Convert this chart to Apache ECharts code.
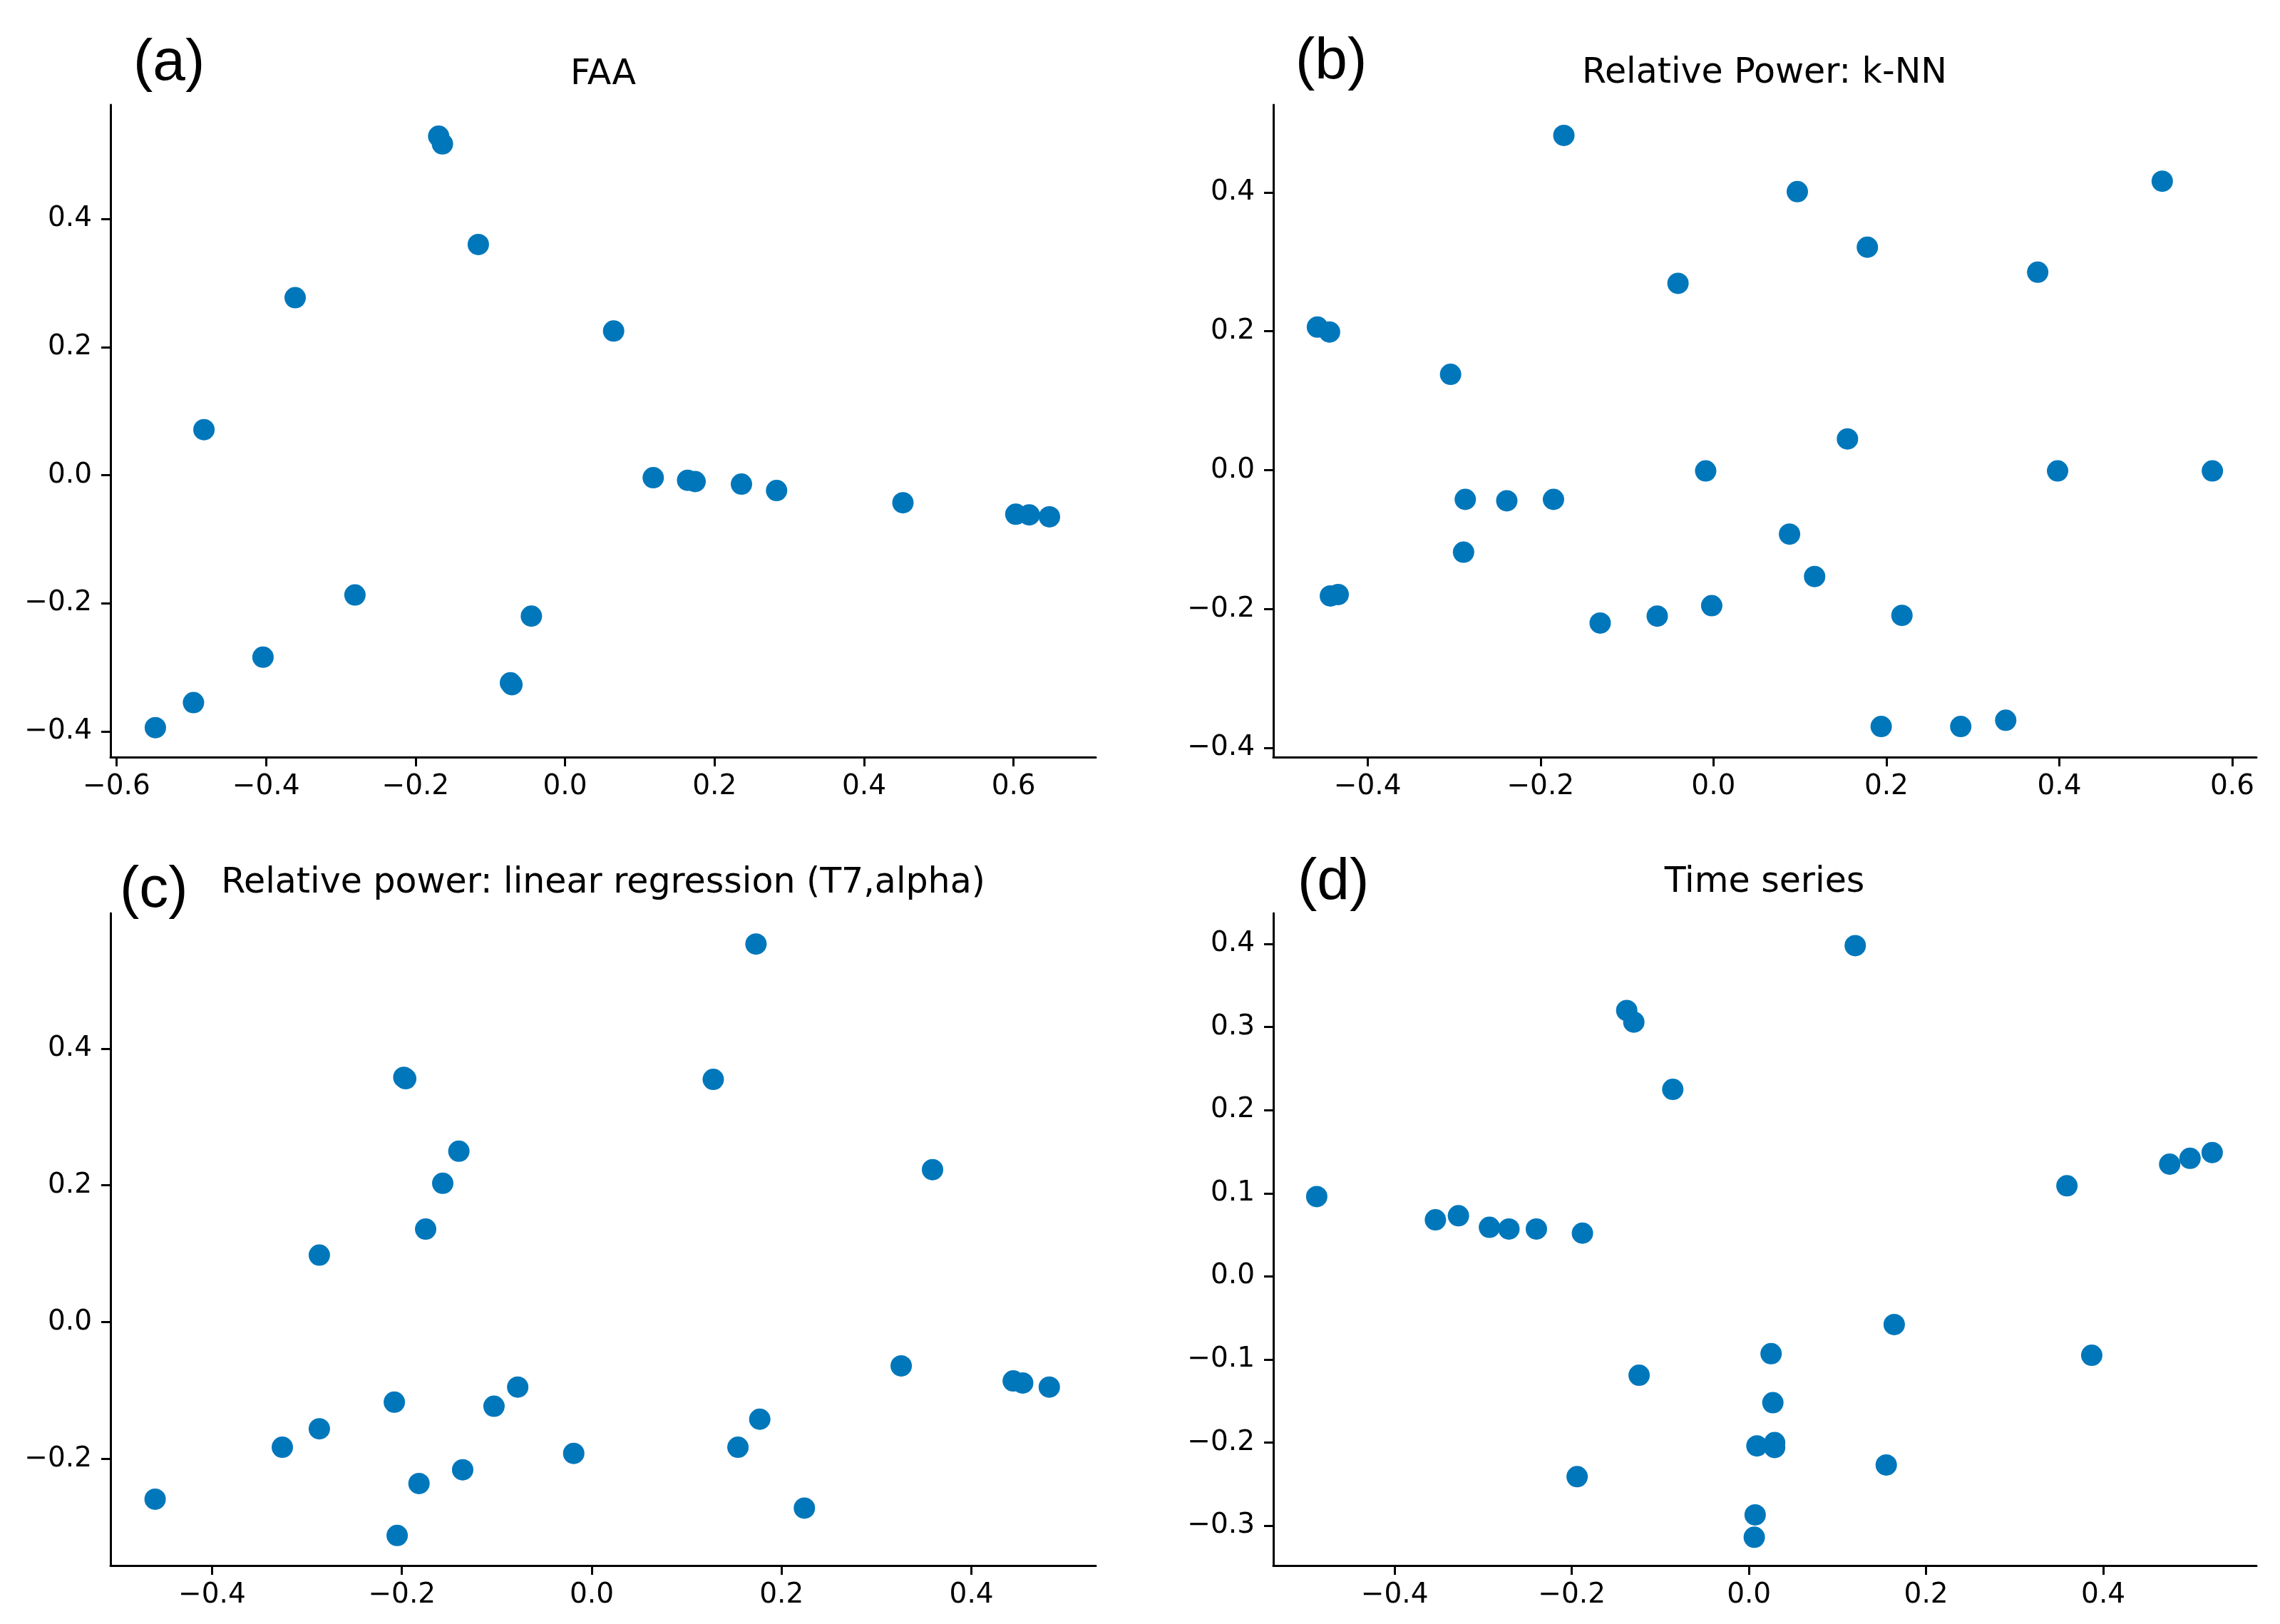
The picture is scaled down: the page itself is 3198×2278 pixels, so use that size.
<!DOCTYPE html>
<html>
<head>
<meta charset="utf-8">
<title>Scatter panels</title>
<script src="https://cdn.jsdelivr.net/npm/echarts@6/dist/echarts.min.js"></script>
<style>
  html, body { margin: 0; padding: 0; background: #fff; }
  #main { width: 3198px; height: 2278px; }
</style>
</head>
<body>
<div id="main"></div>
<script>
// panel titles and letters
var panelTags = ['(a)', '(b)', '(c)', '(d)'];
var panelTitles = ['FAA', 'Relative Power: k-NN', 'Relative power: linear regression (T7,alpha)', 'Time series'];

// (a) FAA  [x, y]
var faaPoints = [
  [-0.169, 0.529], [-0.164, 0.517], [-0.116, 0.360], [-0.361, 0.277], [0.065, 0.225],
  [-0.483, 0.071], [0.118, -0.004], [0.164, -0.008], [0.174, -0.010], [0.236, -0.014],
  [0.283, -0.024], [0.452, -0.043], [0.603, -0.061], [0.621, -0.062], [0.648, -0.065],
  [-0.281, -0.187], [-0.045, -0.220], [-0.404, -0.284], [-0.071, -0.327], [-0.073, -0.324],
  [-0.497, -0.355], [-0.548, -0.394]
];
// (b) Relative Power: k-NN
var knnPoints = [
  [-0.173, 0.482], [0.097, 0.401], [0.519, 0.416], [0.178, 0.321], [0.375, 0.285],
  [-0.041, 0.269], [-0.458, 0.206], [-0.444, 0.199], [-0.304, 0.138], [0.155, 0.045],
  [-0.009, -0.001], [0.398, -0.001], [0.577, -0.001], [-0.287, -0.042], [-0.239, -0.044],
  [-0.185, -0.042], [0.088, -0.092], [-0.289, -0.118], [0.117, -0.153], [-0.443, -0.181],
  [-0.434, -0.179], [-0.002, -0.195], [-0.065, -0.210], [-0.131, -0.220], [0.218, -0.209],
  [0.194, -0.369], [0.286, -0.369], [0.338, -0.360]
];
// (c) Relative power: linear regression
var linPoints = [
  [0.173, 0.553], [-0.196, 0.356], [-0.198, 0.358], [0.128, 0.355], [-0.140, 0.250],
  [0.359, 0.223], [-0.157, 0.203], [-0.175, 0.136], [-0.287, 0.098], [0.326, -0.064],
  [0.444, -0.086], [0.454, -0.089], [0.482, -0.095], [-0.078, -0.095], [-0.103, -0.123],
  [-0.208, -0.117], [0.177, -0.142], [-0.287, -0.156], [-0.326, -0.183], [0.154, -0.183],
  [-0.019, -0.192], [-0.136, -0.216], [-0.182, -0.236], [-0.460, -0.259], [0.224, -0.272],
  [-0.205, -0.312]
];
// (d) Time series
var tsPoints = [
  [0.120, 0.398], [-0.138, 0.320], [-0.130, 0.306], [-0.086, 0.225], [-0.488, 0.096],
  [-0.354, 0.068], [-0.328, 0.073], [-0.293, 0.059], [-0.271, 0.057], [-0.240, 0.057],
  [-0.188, 0.052], [0.359, 0.109], [0.475, 0.135], [0.498, 0.142], [0.523, 0.149],
  [0.164, -0.058], [0.025, -0.093], [0.387, -0.095], [-0.124, -0.119], [0.027, -0.152],
  [0.009, -0.204], [0.029, -0.200], [0.029, -0.206], [0.155, -0.227], [-0.194, -0.241],
  [0.007, -0.287], [0.006, -0.314]
];

// tick values per panel
var xTicksA = [-0.6, -0.4, -0.2, 0, 0.2, 0.4, 0.6];
var yTicksA = [-0.4, -0.2, 0, 0.2, 0.4];
var xTicksB = [-0.4, -0.2, 0, 0.2, 0.4, 0.6];
var yTicksB = [-0.4, -0.2, 0, 0.2, 0.4];
var xTicksC = [-0.4, -0.2, 0, 0.2, 0.4];
var yTicksC = [-0.2, 0, 0.2, 0.4];
var xTicksD = [-0.4, -0.2, 0, 0.2, 0.4];
var yTicksD = [-0.3, -0.2, -0.1, 0, 0.1, 0.2, 0.3, 0.4];

// axis ranges (matplotlib 5% margins)
var xRange = [[-0.608, 0.710], [-0.509, 0.628], [-0.507, 0.531], [-0.537, 0.573]];
var yRange = [[-0.440, 0.578], [-0.413, 0.526], [-0.356, 0.598], [-0.348, 0.437]];

var grids = [
  {left: 155, top: 147, width: 1382, height: 915},
  {left: 1786, top: 147, width: 1379, height: 915},
  {left: 155, top: 1281, width: 1382, height: 915},
  {left: 1786, top: 1281, width: 1379, height: 915}
];

var dotColor = '#0077bb';
var axisColor = '#000';

function fmt(v) {
  return v.toFixed(1).replace('-', '\u2212');
}

function makeAxis(i, range, ticks, isX) {
  return {
    type: 'value',
    gridIndex: i,
    min: range[0],
    max: range[1],
    position: isX ? 'bottom' : 'left',
    axisLine: {show: true, onZero: false, lineStyle: {color: axisColor, width: 3}},
    axisTick: {show: true, inside: false, length: 13, lineStyle: {color: axisColor, width: 3}, customValues: ticks},
    axisLabel: {
      show: true, customValues: ticks, formatter: fmt,
      fontFamily: 'DejaVu Sans', fontSize: 39, color: '#000',
      margin: isX ? 22 : 26
    },
    splitLine: {show: false}
  };
}

var allPoints = [faaPoints, knnPoints, linPoints, tsPoints];
var xTicks = [xTicksA, xTicksB, xTicksC, xTicksD];
var yTicks = [yTicksA, yTicksB, yTicksC, yTicksD];

var xAxes = [], yAxes = [], series = [];
for (var i = 0; i < 4; i++) {
  xAxes.push(makeAxis(i, xRange[i], xTicks[i], true));
  yAxes.push(makeAxis(i, yRange[i], yTicks[i], false));
  series.push({
    type: 'scatter',
    xAxisIndex: i,
    yAxisIndex: i,
    symbolSize: 30,
    itemStyle: {color: dotColor, opacity: 1},
    data: allPoints[i],
    silent: true
  });
}

// title/letter anchors
var tagPos = [[187, 89], [1817, 87], [168, 1249], [1820, 1238]];
var titlePos = [[846, 105], [2475, 103], [846, 1239], [2475, 1238]];
var graphics = [];
for (var j = 0; j < 4; j++) {
  graphics.push({
    type: 'text', x: tagPos[j][0], y: tagPos[j][1],
    style: {text: panelTags[j], font: '82px "Liberation Sans"', fill: '#000',
            align: 'left', verticalAlign: 'middle', textAlign: 'left', textVerticalAlign: 'middle'}
  });
  graphics.push({
    type: 'text', x: titlePos[j][0], y: titlePos[j][1],
    style: {text: panelTitles[j], font: '49px "DejaVu Sans"', fill: '#000',
            align: 'center', verticalAlign: 'middle', textAlign: 'center', textVerticalAlign: 'middle'}
  });
}

var myChart = echarts.init(document.getElementById('main'), null, {renderer: 'canvas'});
myChart.setOption({
  backgroundColor: '#fff',
  animation: false,
  grid: grids,
  xAxis: xAxes,
  yAxis: yAxes,
  series: series,
  graphic: graphics
});
</script>
</body>
</html>
